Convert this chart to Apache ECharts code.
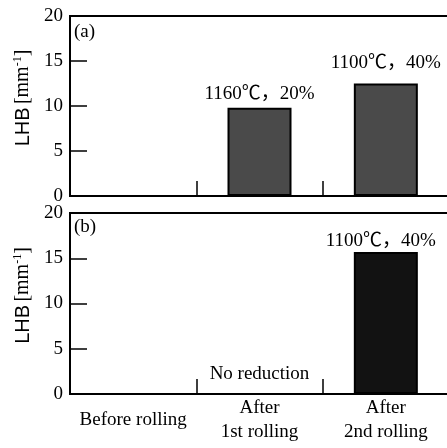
<!DOCTYPE html>
<html><head><meta charset="utf-8">
<script src="https://cdn.jsdelivr.net/npm/echarts@6/dist/echarts.min.js"></script>
<style>html,body{margin:0;padding:0;background:#fff}#c{width:447px;height:448px}</style>
</head><body><div id="c"></div>
<script>
var categories = ['Before rolling', 'After\n1st rolling', 'After\n2nd rolling'];
var valuesA = [null, 9.8, 12.5];
var valuesB = [null, 0, 15.7];
var notesA = ['', '1160℃，20%', '1100℃，40%'];
var notesB = ['', 'No reduction', '1100℃，40%'];
var yTicks = [0, 5, 10, 15, 20];
var panelLabels = ['(a)', '(b)'];

var serif = 'Liberation Serif, Times New Roman, Noto Sans CJK SC, serif';
var sans = 'Liberation Sans, Arial, sans-serif';

function yAxis(gi) {
  return {
    gridIndex: gi, type: 'value', min: yTicks[0], max: yTicks[yTicks.length - 1], interval: 5,
    axisLine: {show: true, lineStyle: {color: '#000', width: 2}},
    axisTick: {show: true, inside: true, length: 17, lineStyle: {color: '#000', width: 1.5}},
    splitLine: {show: false},
    axisLabel: {color: '#000', fontFamily: serif, fontSize: 19, margin: 7},
    name: '{s|LHB} {r|[mm}{sup|-1}{r|]}',
    nameLocation: 'middle', nameGap: 34, nameRotate: 90,
    nameTextStyle: {
      padding: [0, 0, 0, 16],
      rich: {
        s: {fontFamily: sans, fontSize: 20, color: '#000', lineHeight: 22},
        r: {fontFamily: serif, fontSize: 20, color: '#000', lineHeight: 22},
        sup: {fontFamily: serif, fontSize: 12, color: '#000', verticalAlign: 'top', lineHeight: 22, padding: [0, 0, 8, 0]}
      }
    }
  };
}
function xAxis(gi, showLabels) {
  return {
    gridIndex: gi, type: 'category', data: categories, boundaryGap: true,
    axisLine: {show: true, lineStyle: {color: '#000', width: 2}},
    axisTick: {show: true, inside: true, length: 15, lineStyle: {color: '#000', width: 1.5}},
    axisLabel: {show: showLabels, color: '#000', fontFamily: serif, fontSize: 19, lineHeight: 24,
      verticalAlign: 'middle', margin: 26, interval: 0}
  };
}
function mkData(vals, notes, dists, offs) {
  return vals.map(function (v, i) {
    return {value: v, label: {show: !!notes[i], formatter: notes[i], distance: dists[i], offset: offs[i]}};
  });
}

var chart = echarts.init(document.getElementById('c'), null, {renderer: 'canvas'});
chart.setOption({
  animation: false,
  backgroundColor: '#fff',
  title: [
    {text: panelLabels[0], left: 74, top: 23, textStyle: {fontFamily: serif, fontSize: 19, fontWeight: 'normal', color: '#000'}, padding: 0},
    {text: panelLabels[1], left: 74, top: 218, textStyle: {fontFamily: serif, fontSize: 19, fontWeight: 'normal', color: '#000'}, padding: 0}
  ],
  grid: [
    {left: 70, top: 16, width: 379, height: 180, show: true, borderColor: '#000', borderWidth: 2, backgroundColor: 'transparent', outerBoundsMode: 'none', containLabel: false},
    {left: 70, top: 213, width: 379, height: 181, show: true, borderColor: '#000', borderWidth: 2, backgroundColor: 'transparent', outerBoundsMode: 'none', containLabel: false}
  ],
  xAxis: [xAxis(0, false), xAxis(1, true)],
  yAxis: [yAxis(0), yAxis(1)],
  series: [
    {type: 'bar', xAxisIndex: 0, yAxisIndex: 0, barWidth: 64,
      itemStyle: {color: '#4a4a4a', borderColor: '#000', borderWidth: 2},
      label: {position: 'top', color: '#000', fontFamily: serif, fontSize: 19},
      data: mkData(valuesA, notesA, [6, 4, 11], [[0, 0], [0, 0], [0, 0]])},
    {type: 'bar', xAxisIndex: 1, yAxisIndex: 1, barWidth: 64,
      itemStyle: {color: '#121212', borderColor: '#000', borderWidth: 2},
      label: {position: 'top', color: '#000', fontFamily: serif, fontSize: 19},
      data: mkData(valuesB, notesB, [0, 9, 1], [[0, 0], [0, 0], [-5, 0]])}
  ]
});
</script></body></html>
